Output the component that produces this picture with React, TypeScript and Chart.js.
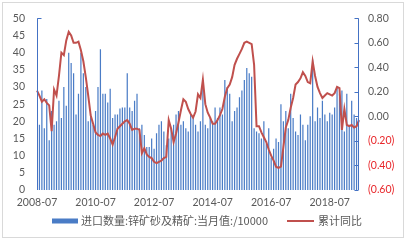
import React, { useEffect, useRef } from 'react';
import { Chart, registerables } from 'chart.js';

Chart.register(...registerables);

// ---- data ----
const START_YEAR = 2008;
const START_MONTH = 7;
const MONTH_COUNT = 133;
const categories: string[] = Array.from({ length: MONTH_COUNT }, (_, i) => {
  const m = START_MONTH - 1 + i;
  const y = START_YEAR + Math.floor(m / 12);
  const mm = (m % 12) + 1;
  return `${y}-${String(mm).padStart(2, '0')}`;
});
const xTickLabels = ['2008-07', '2010-07', '2012-07', '2014-07', '2016-07', '2018-07'];

const importVolume = [
  20, 19, 29, 18, 26.5, 14.5, 23, 19, 20, 26,
  21, 30, 24.5, 40, 37, 34, 22, 28, 40, 34,
  30, 20, 22, 19, 23, 30, 41, 28, 28, 25.5,
  29.5, 21, 22, 22, 23.7, 24, 24, 34, 24, 23,
  26, 28, 18, 19, 16, 12.5, 12.5, 15, 12, 16.5,
  19, 20, 17, 13, 15, 18, 19, 22, 23, 19,
  20, 18, 17, 22, 21, 19, 17, 20, 30, 19,
  18, 21, 20, 24, 21, 24, 22, 32, 30, 28,
  20, 23, 24, 27, 29, 32, 35.5, 34, 33, 18,
  17, 16.5, 15, 20, 13.5, 18, 9.5, 12, 15, 14,
  25, 20, 23, 18, 28, 21, 17, 16, 22, 19,
  14.5, 19, 21.5, 38, 20, 24, 21, 26, 22, 20,
  22.5, 22, 24, 30, 28, 29, 17, 28, 19, 26,
  22, 21, 20,
];

const cumulativeYoY = [
  0.21, 0.17, 0.12, 0.14, 0.11, 0.09, -0.12, 0.22, 0.17, 0.33,
  0.52, 0.50, 0.62, 0.69, 0.66, 0.60, 0.60, 0.61, 0.54, 0.45,
  0.32, 0.17, 0.01, -0.06, -0.13, -0.15, -0.16, -0.14, -0.15, -0.14,
  -0.18, -0.23, -0.17, -0.10, -0.08, -0.06, -0.04, -0.03, -0.06, -0.11,
  -0.10, -0.10, -0.11, -0.30, -0.26, -0.31, -0.33, -0.34, -0.37, -0.38,
  -0.37, -0.36, -0.34, -0.33, -0.03, -0.10, -0.21, -0.14, -0.05, 0.05,
  0.14, 0.12, 0.06, 0.02, -0.01, 0.04, 0.18, 0.15, 0.30, 0.10,
  0.03, -0.01, -0.06, -0.06, -0.03, 0.01, 0.06, 0.16, 0.23, 0.26,
  0.32, 0.42, 0.47, 0.51, 0.55, 0.60, 0.61, 0.60, 0.59, 0.42,
  -0.08, -0.08, -0.13, -0.17, -0.21, -0.27, -0.32, -0.36, -0.41, -0.42,
  -0.41, -0.25, -0.09, -0.03, 0.07, 0.15, 0.26, 0.28, 0.31, 0.36,
  0.33, 0.28, 0.27, 0.45, 0.33, 0.24, 0.19, 0.15, 0.17, 0.19,
  0.18, 0.17, 0.19, 0.24, 0.23, -0.11, 0.06, -0.07, -0.08, -0.07,
  -0.09, -0.08, -0.03,
];

const barLabel = '进口数量:锌矿砂及精矿:当月值:/10000';
const lineLabel = '累计同比';

// ---- styles ----
const BAR_COLOR = '#4A7CC6';
const LINE_COLOR = '#C0504D';
const AXIS_COLOR = '#4472C4';
const TEXT_COLOR = '#595959';
const NEG_COLOR = '#E8262A';
const NUM_FONT = 'Lato';
const CJK_FONT = 'Noto Sans CJK SC';

const decorPlugin = {
  id: 'decor',
  beforeDraw(chart: any) {
    const ctx = chart.ctx;
    ctx.save();
    ctx.fillStyle = '#ffffff';
    ctx.fillRect(0, 0, chart.width, chart.height);
    ctx.strokeStyle = '#D9D9D9';
    ctx.lineWidth = 1;
    ctx.strokeRect(2.5, 2.5, 401, 235);
    ctx.restore();
  },
  afterDatasetsDraw(chart: any) {
    const { ctx, chartArea, scales } = chart;
    ctx.save();
    ctx.strokeStyle = AXIS_COLOR;
    ctx.lineWidth = 1;
    const lx = Math.round(chartArea.left) + 0.5;
    const rx = Math.round(chartArea.right) - 0.5;
    ctx.beginPath();
    ctx.moveTo(lx, chartArea.top);
    ctx.lineTo(lx, chartArea.bottom);
    ctx.moveTo(lx, Math.round(chartArea.top) + 0.5);
    ctx.lineTo(lx + 4, Math.round(chartArea.top) + 0.5);
    ctx.moveTo(rx, chartArea.top);
    ctx.lineTo(rx, chartArea.bottom);
    const y1 = scales.y1;
    y1.ticks.forEach((t: any) => {
      const yy = Math.round(y1.getPixelForValue(t.value)) + 0.5;
      ctx.moveTo(rx, yy);
      ctx.lineTo(rx - 4, yy);
    });
    ctx.stroke();
    ctx.restore();
  },
  afterDraw(chart: any) {
    const ctx = chart.ctx;
    ctx.save();
    const ly = 221;
    ctx.fillStyle = BAR_COLOR;
    ctx.fillRect(52, ly - 2.5, 26, 5);
    ctx.font = `11px "${CJK_FONT}"`;
    ctx.fillStyle = TEXT_COLOR;
    ctx.textBaseline = 'middle';
    ctx.textAlign = 'left';
    ctx.fillText(barLabel, 81, ly);
    ctx.strokeStyle = LINE_COLOR;
    ctx.lineWidth = 2;
    ctx.beginPath();
    ctx.moveTo(287, ly);
    ctx.lineTo(314, ly);
    ctx.stroke();
    ctx.fillText(lineLabel, 318, ly);
    ctx.restore();
  },
};

export default function App() {
  const ref = useRef<HTMLCanvasElement>(null);
  useEffect(() => {
    if (!ref.current) return;
    const chart = new Chart(ref.current, {
      type: 'bar',
      data: {
        labels: categories,
        datasets: [
          {
            type: 'line',
            label: lineLabel,
            data: cumulativeYoY,
            yAxisID: 'y1',
            borderColor: LINE_COLOR,
            backgroundColor: LINE_COLOR,
            borderWidth: 2,
            pointRadius: 0,
            tension: 0,
            order: 0,
          } as any,
          {
            type: 'bar',
            label: barLabel,
            data: importVolume,
            yAxisID: 'y',
            backgroundColor: BAR_COLOR,
            barPercentage: 0.5,
            categoryPercentage: 1,
            order: 1,
          },
        ],
      },
      options: {
        responsive: false,
        animation: false,
        devicePixelRatio: 1,
        layout: { padding: { top: 17, left: 0, right: 0, bottom: 0 } },
        plugins: { legend: { display: false }, tooltip: { enabled: false } },
        scales: {
          x: {
            type: 'category',
            offset: false,
            grid: { display: false, drawTicks: false },
            border: { display: false },
            ticks: {
              autoSkip: false,
              maxRotation: 0,
              minRotation: 0,
              padding: 6,
              color: TEXT_COLOR,
              font: { family: NUM_FONT, size: 10.5 },
              callback: (_v: any, i: number) => (xTickLabels.includes(categories[i]) ? categories[i] : ''),
            },
            afterFit: (s: any) => { s.height = 50; },
          },
          y: {
            position: 'left',
            min: 0,
            max: 50,
            grid: { display: false, drawTicks: false },
            border: { display: false },
            ticks: {
              stepSize: 5,
              padding: 12,
              color: TEXT_COLOR,
              font: { family: NUM_FONT, size: 10.5 },
            },
            afterFit: (s: any) => { s.width = 37; },
          },
          y1: {
            position: 'right',
            min: -0.6,
            max: 0.8,
            grid: { display: false, drawTicks: false },
            border: { display: false },
            ticks: {
              stepSize: 0.2,
              padding: 9,
              color: (c: any) => (c.tick && c.tick.value < -1e-9 ? NEG_COLOR : TEXT_COLOR),
              font: { family: NUM_FONT, size: 10.5 },
              callback: (v: any) => {
                const n = Number(v);
                if (n < -1e-9) return `(${Math.abs(n).toFixed(2)})`;
                return Math.abs(n).toFixed(2);
              },
            },
            afterFit: (s: any) => { s.width = 51; },
          },
        },
      },
      plugins: [decorPlugin],
    });
    return () => chart.destroy();
  }, []);
  return (
    <div style={{ position: 'fixed', left: 0, top: 0, width: 410, height: 240, background: '#fff' }}>
      <canvas ref={ref} width={410} height={240} />
    </div>
  );
}
